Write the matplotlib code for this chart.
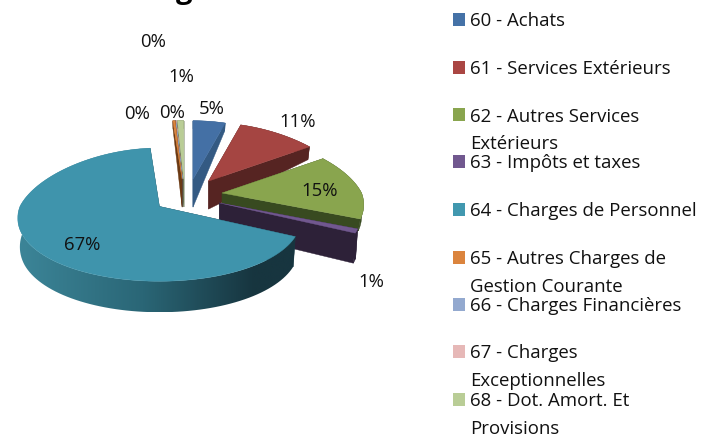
import numpy as np
import matplotlib
matplotlib.use('Agg')
import matplotlib.pyplot as plt
from matplotlib.colors import LinearSegmentedColormap
from matplotlib.patches import Polygon, Rectangle

plt.rcParams['font.family'] = ['Open Sans', 'DejaVu Sans']

# data
comptes = ['60 - Achats', '61 - Services Extérieurs', '62 - Autres Services\nExtérieurs',
           '63 - Impôts et taxes', '64 - Charges de Personnel',
           '65 - Autres Charges de\nGestion Courante', '66 - Charges Financières',
           '67 - Charges\nExceptionnelles', '68 - Dot. Amort. Et\nProvisions']
parts = [4.9, 10.9, 15.2, 1.0, 66.6, 0.35, 0.03, 0.07, 0.95]
etiquettes = ['5%', '11%', '15%', '1%', '67%', '0%', '0%', '0%', '1%']

# colours
couleurs = ['#4470A5', '#A54542', '#89A54E', '#71588F', '#3F94AC', '#DB843D', '#93A9CF', '#E6B8B7', '#B9CD96']
sombres = ['#345A83', '#562422', '#384A20', '#2D2138', '#1A3D49', '#6B3A14', '#4A5568', '#7A5554', '#5E6B48']
legende_couleurs = ['#4572A7', '#AA4643', '#89A54E', '#71588F', '#4198AF', '#DB843D', '#93A9CF', '#E6B8B7', '#B9CD96']
degrade_rim = LinearSegmentedColormap.from_list('rim', [(0, '#3C8598'), (0.45, '#2A6676'), (0.85, '#17353F'), (1, '#17353F')])

# layout, in pixels of the 705x435 picture
CX, CY = 187.7, 196.0
EXPLODE_X, EXPLODE_Y = 34.5, 20.0
RX, RY = 139.5, 68.0
decalage_x = [0, 0, 0, 0, 0, -3, -3, -3, -3]
decalage_y = [4, 2, 0, 0, 0, 4, 4, 4, 4]
echelle_prof = [1, 1, 0.4, 1, 1, 1, 1, 1, 1]
pos_etiquettes = [(212, 109), (298, 122), (320, 191), (371, 282), (82, 245),
                  (137, 114), (172, 113), (153, 42), (181, 77)]
legende_y = [20, 68, 115, 162, 210, 258, 305, 352, 400]


def profondeur(y_local):
    # the side gets thinner towards the back of the pie
    return np.interp(y_local, [-1, -0.4, 0, 0.54, 0.95, 1], [31, 30, 28, 13, 8, 8])


def projette(angle, apex):
    # clockwise angle from 12 o'clock -> point on the rim, with some perspective
    x = np.sin(angle)
    y = np.cos(angle)
    k = np.where(y > 0, 0.25, 0.18)
    px = apex[0] + RX * x * (1 - k * y)
    py = apex[1] - RY * y * (1 - np.where(y > 0, 0.14, 0.1) * y)
    return px, py, y


def tranche(ax, debut, fin, couleur, sombre, z, dx=0, dy=0, ep=1, degrade=False):
    milieu = (debut + fin) / 2
    apex = (CX + dx + EXPLODE_X * np.sin(milieu), CY + dy - EXPLODE_Y * np.cos(milieu))
    angles = np.linspace(debut, fin, 120)
    px, py, y = projette(angles, apex)
    d = profondeur(y) * ep
    d0 = profondeur(0) * ep
    # bottom rim sits a little further from the viewer
    bx = apex[0] + (px - apex[0]) * 0.985
    by = py + d

    # radial sides
    for k in [0, -1]:
        pts = [apex, (px[k], py[k]), (bx[k], by[k]), (apex[0], apex[1] + d0)]
        ax.add_patch(Polygon(pts, closed=True, fc=sombre, ec=sombre, lw=0.3, zorder=z))

    # rim side
    pts = list(zip(px, py)) + list(zip(bx[::-1], by[::-1]))
    if degrade:
        forme = Polygon(pts, closed=True, fc='none', ec='none', zorder=z)
        ax.add_patch(forme)
        bande = np.linspace(0, 1, 256).reshape(1, -1)
        im = ax.imshow(bande, cmap=degrade_rim, aspect='auto', zorder=z,
                       extent=(px.min(), px.max(), by.max(), py.min()))
        im.set_clip_path(forme)
    else:
        ax.add_patch(Polygon(pts, closed=True, fc=sombre, ec=sombre, lw=0.3, zorder=z))

    # top face
    pts = [apex] + list(zip(px, py))
    ax.add_patch(Polygon(pts, closed=True, fc=couleur, ec=couleur, lw=0.3, zorder=z + 0.5))


def main():
    fig = plt.figure(figsize=(7.05, 4.35), dpi=100)
    ax = fig.add_axes([0, 0, 1, 1])

    total = sum(parts)
    bornes = np.cumsum([0] + parts) / total * 2 * np.pi
    ordre = [8, 7, 6, 5, 0, 1, 2, 3, 4]
    for z, i in enumerate(ordre):
        tranche(ax, bornes[i], bornes[i + 1], couleurs[i], sombres[i], z + 2,
                dx=decalage_x[i], dy=decalage_y[i], ep=echelle_prof[i], degrade=(i == 4))

    ax.set_xlim(0, 705)
    ax.set_ylim(435, 0)
    ax.axis('off')

    for txt, (x, y) in zip(etiquettes, pos_etiquettes):
        ax.text(x, y, txt, fontsize=13.3, color='#111111', ha='center', va='center', zorder=30)

    # only the tail of the g in the title is left in the picture
    ax.text(184, -2, 'g', fontsize=21, fontweight='bold', color='black', ha='center',
            va='baseline', clip_on=True)

    # legend
    for nom, c, y in zip(comptes, legende_couleurs, legende_y):
        ax.add_patch(Rectangle((453, y - 6.5), 12, 13, fc=c, ec='none'))
        for k, ligne in enumerate(nom.split('\n')):
            ax.text(470.5, y + 1.5 + k * 28, ligne, fontsize=13.4, color='#111111', ha='left', va='center')

    fig.savefig('out.png', dpi=100)


if __name__ == '__main__':
    main()
